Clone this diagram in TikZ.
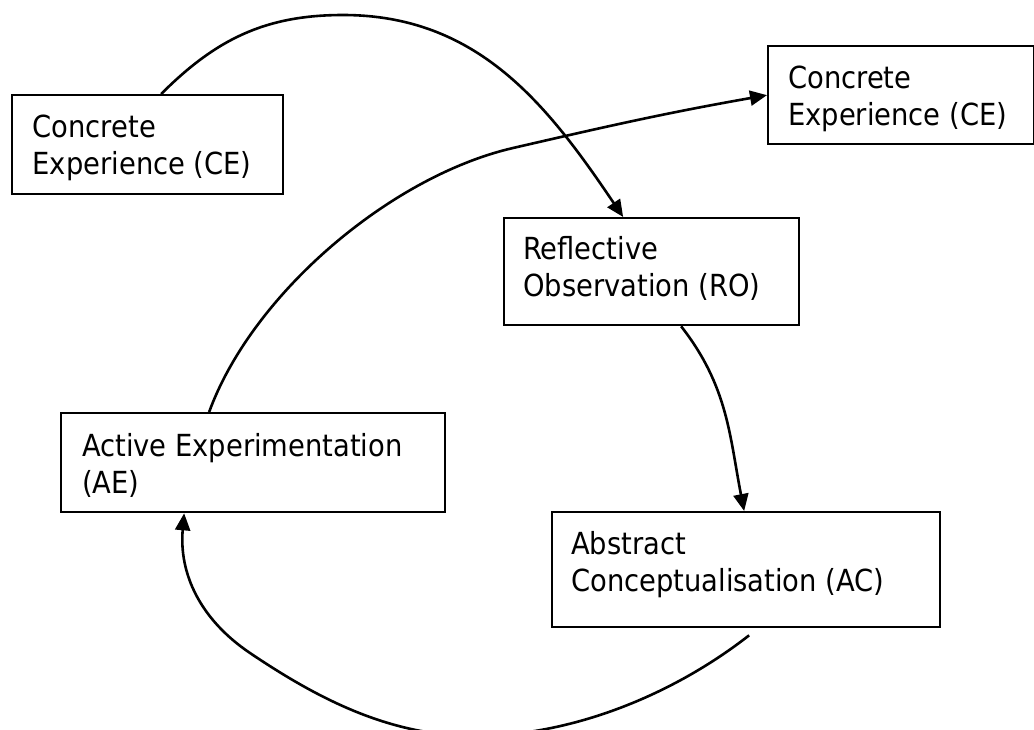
\documentclass[tikz,border=0pt]{standalone}
\usepackage{fontspec}
\setmainfont{DejaVu Sans Condensed}
\usetikzlibrary{arrows.meta}
\tikzset{
  box/.style={draw=black, line width=2.3pt, rectangle, inner sep=0pt, anchor=north west},
  lbl/.style={inner sep=0pt, anchor=base west, align=left, font=\fontsize{30.4}{37.5}\selectfont},
  conn/.style={draw=black, line width=2.6pt, -{Triangle[length=17pt,width=15pt]}}
}
\begin{document}
\begin{tikzpicture}[x=1pt,y=-1pt]
\path[use as bounding box] (0,0) rectangle (1034,729);
\clip (0,0) rectangle (1034,729);
% boxes
\node[box, minimum width=271pt, minimum height=99pt] (ce1) at (11,94) {};
\node[box, minimum width=266pt, minimum height=98pt] (ce2) at (767,45) {};
\node[box, minimum width=295pt, minimum height=107pt] (ro) at (503,217) {};
\node[box, minimum width=384pt, minimum height=99pt] (ae) at (60,412) {};
\node[box, minimum width=388pt, minimum height=115pt] (ac) at (551,511) {};
% labels (anchored at the baseline of the last line)
\node[lbl] (ce1t) at (32.5,174.5) {Concrete\\Experience (CE)};
\node[lbl] (ce2t) at (788,125.5) {Concrete\\Experience (CE)};
\node[lbl] (rot) at (523,296.5) {Reflective\\Observation (RO)};
\node[lbl] (aet) at (82,493.5) {Active Experimentation\\(AE)};
\node[lbl] (act) at (571,591.5) {Abstract\\Conceptualisation (AC)};
% helper coordinates
\coordinate (p1) at (343,15);
\coordinate (m1) at (513,148);
\coordinate (b1) at (475,736);
\coordinate (b2) at (250,653);
% connectors
\draw[conn] ([xshift=13.5pt]ce1.north) to[out=45,in=180] (p1) to[out=0,in=124] ([xshift=-28.5pt]ro.north);
\draw[conn] ([xshift=29.5pt]ro.south) to[out=-52,in=101] ([xshift=-2pt]ac.north);
\draw[conn] ([xshift=3pt,yshift=-7pt]ac.south) to[out=218,in=0,looseness=0.85] (b1) to[out=180,in=-34,looseness=0.9] (b2) to[out=146,in=265] ([xshift=-69pt]ae.south);
\draw[conn] ([xshift=-44pt]ae.north) to[out=70,in=193,looseness=0.8] (m1) to[out=13,in=190] (ce2.west);
\end{tikzpicture}
\end{document}
